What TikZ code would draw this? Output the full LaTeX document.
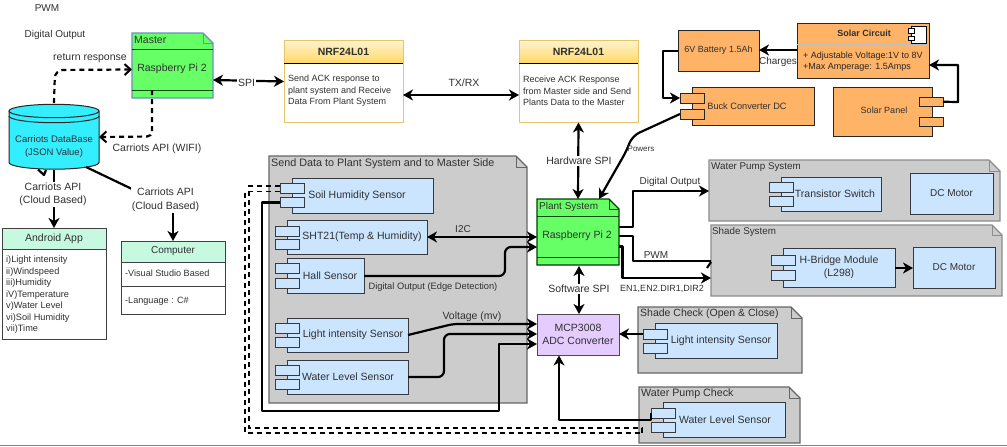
\documentclass[tikz,border=0pt]{standalone}
\usepackage{fontspec}
\setmainfont{Liberation Sans}
\usetikzlibrary{arrows.meta,calc}
\definecolor{txt}{HTML}{303030}
\definecolor{gbox}{HTML}{CCCCCC}
\definecolor{gline}{HTML}{808080}
\definecolor{bluef}{HTML}{CCE5FF}
\definecolor{blued}{HTML}{36393D}
\definecolor{orangef}{HTML}{FFB366}
\definecolor{greenf}{HTML}{66FF66}
\definecolor{greenl}{HTML}{6C8EBF}
\definecolor{cyanf}{HTML}{33EEFF}
\definecolor{purplef}{HTML}{E5CCFF}
\definecolor{mintf}{HTML}{C6F9E0}
\definecolor{yelb}{HTML}{FFD966}
\definecolor{yeld}{HTML}{E6C56A}
\newcommand{\fsa}{\fontsize{10.5}{12.5}\selectfont}
\newcommand{\fsb}{\fontsize{9}{11.5}\selectfont}
\newcommand{\fsc}{\fontsize{10}{12}\selectfont}
\tikzset{
  lbl/.style={font=\fsa,text=txt,inner sep=0pt,align=center},
  lblw/.style={lbl,fill=white,inner sep=1pt},
  shape box/.style={draw,inner sep=0pt,outer sep=0pt,line width=0.9pt,font=\fsc,text=txt,align=center},
  bluebox/.style={shape box,fill=bluef,draw=blued},
  orangebox/.style={shape box,fill=orangef,draw=black!85},
  whitebox/.style={shape box,fill=white,draw=black!75},
  mintbox/.style={shape box,fill=mintf,draw=black!75},
  conn/.style={line width=2.2pt,draw=black,line join=round},
  dash line/.style={line width=2.2pt,draw=black,dash pattern=on 5pt off 4pt},
  tip/.style={-{Stealth[length=10pt,width=11pt,inset=3pt]}},
  bitip/.style={{Stealth[length=10pt,width=11pt,inset=3pt]}-{Stealth[length=10pt,width=11pt,inset=3pt]}},
  barb/.style={-{Straight Barb[length=6pt,width=11pt,line width=2pt]}},
}
% name x1 y1 x2 y2 style text
\newcommand{\rbox}[7]{\node[#6,minimum width={((#4)-(#2))*1pt},minimum height={((#5)-(#3))*1pt}] (#1) at ({((#2)+(#4))/2},{((#3)+(#5))/2}) {#7};}
% name x1 y1 x2 y2 fold fill draw
\newcommand{\fnote}[8]{%
  \path[draw=#8,fill=#7,line width=1.1pt,line join=miter] (#2,#3) -- ({#4-#6},#3) -- (#4,{#3+#6}) -- (#4,#5) -- (#2,#5) -- cycle;
  \path[draw=#8,line width=0.8pt] ({#4-#6},#3) -- ({#4-#6},{#3+#6}) -- (#4,{#3+#6});
  \node[inner sep=0pt,outer sep=0pt,minimum width={(#4-#2)*1pt},minimum height={(#5-#3)*1pt}] (#1) at ({(#2+#4)/2},{(#3+#5)/2}) {};}
% name x1 y1 x2 y2 porta-y portb-y text-cx text
\newcommand{\comp}[9]{%
  \rbox{#1}{#2}{#3}{#4}{#5}{\compstyle}{}
  \rbox{#1-a}{#2-12}{#6}{#2+12}{#6+10}{\compstyle}{}
  \rbox{#1-b}{#2-12}{#7}{#2+12}{#7+10}{\compstyle}{}
  \node[lbl] (#1-t) at (#8,{(#3+#5)/2}) {#9};}
\newcommand{\compstyle}{bluebox}
\begin{document}
\begin{tikzpicture}[x=1pt,y=-1pt]
\useasboundingbox (0,0) rectangle (1007,447);
\coordinate (bl) at (0,445.5);
\coordinate (br) at (1007,445.5);
\draw[gline,line width=1pt] (bl) -- (br);

% free labels
\node[lbl,font=\fsc] (tpwm) at (47,8) {PWM};
\node[lbl,font=\fsc] (tdo) at (55,35) {Digital Output};

% group boxes
\fnote{senddata}{269}{156}{527}{403}{11}{gbox}{black!60}
\node[lbl,anchor=west,font=\fontsize{10.8}{12}\selectfont] (senddata-l) at (271,164) {Send Data to Plant System and to Master Side};
\fnote{wps}{709}{160}{1000}{221}{11}{gbox}{black!45}
\node[lbl,anchor=west,font=\fontsize{9.8}{12}\selectfont] (wps-l) at (711,167) {Water Pump System};
\fnote{shade}{711}{225}{1002}{296}{10}{gbox}{black!45}
\node[lbl,anchor=west,font=\fontsize{9.8}{12}\selectfont] (shade-l) at (712,232) {Shade System};
\fnote{shchk}{638}{307}{802}{373}{11}{gbox}{black!60}
\node[lbl,anchor=west] (shchk-l) at (640,314) {Shade Check (Open \& Close)};
\fnote{wpchk}{639}{387}{800}{443}{11}{gbox}{black!60}
\node[lbl,anchor=west,font=\fontsize{10.7}{12}\selectfont] (wpchk-l) at (641,394) {Water Pump Check};

% Master
\fnote{master}{132}{33}{213}{98}{10}{greenf}{greenl}
\draw[black!70!green,line width=0.9pt] (master.west |- 0,49) -- (master.east |- 0,49);
\draw[black!70!green,line width=0.9pt] (master.west |- 0,90) -- (master.east |- 0,90);
\node[lbl,anchor=west] (master-l) at (134,40) {Master};
\node[lbl] (master-t) at (172,69) {Raspberry Pi 2};

% Plant
\fnote{plant}{537}{199}{619}{265}{10}{greenf}{black!75!green}
\draw[black!70!green,line width=0.9pt] (plant.west |- 0,216) -- (plant.east |- 0,216);
\draw[black!70!green,line width=0.9pt] (plant.west |- 0,257) -- (plant.east |- 0,257);
\node[lbl,anchor=west,font=\fsc] (plant-l) at (539,207) {Plant System};
\node[lbl] (plant-t) at (577,236) {Raspberry Pi 2};

% MCP
\rbox{mcp}{537}{314}{619}{355}{shape box,font=\fsa,fill=purplef,draw=black!70}{MCP3008\\[0.5pt]ADC Converter}

% Database
\draw[black!85,fill=cyanf,line width=1pt] (9,111) arc[start angle=180,end angle=360,x radius=45,y radius=6.7] -- (99,162.5) arc[start angle=0,end angle=180,x radius=45,y radius=6.7] -- cycle;
\draw[black!85,line width=1pt] (9,111) arc[start angle=180,end angle=0,x radius=45,y radius=6.7];
\draw[black!85,line width=1pt] (9,116) arc[start angle=180,end angle=0,x radius=45,y radius=6.7];
\node[inner sep=0pt,outer sep=0pt,minimum width=90pt,minimum height=64pt] (db) at (54,137) {};
\node[lbl,font=\fontsize{9.5}{12}\selectfont] (db-t) at (54,146.5) {Carriots DataBase\\[1pt](JSON Value)};

% NRF boxes
\rbox{nrfa}{284}{40}{403}{122}{shape box,fill=white,draw=yeld}{}
\rbox{nrfa-h}{284}{40}{403}{63}{shape box,font=\fontsize{10.5}{12}\selectfont,top color=white!70!yelb,bottom color=yelb,draw=yeld}{\bfseries NRF24L01}
\draw[black,line width=0.8pt] (nrfa-h.south west) -- (nrfa-h.south east);
\node[lbl,font=\fsb,anchor=west,align=left] (nrfa-t) at (288,91) {Send ACK response to\\plant system and Receive\\Data From Plant System};
\rbox{nrfb}{519}{40}{638}{122}{shape box,fill=white,draw=yeld}{}
\rbox{nrfb-h}{519}{40}{638}{63}{shape box,font=\fontsize{10.5}{12}\selectfont,top color=white!70!yelb,bottom color=yelb,draw=yeld}{\bfseries NRF24L01}
\draw[black,line width=0.8pt] (nrfb-h.south west) -- (nrfb-h.south east);
\node[lbl,font=\fsb,anchor=west,align=left] (nrfb-t) at (523,91) {Receive ACK Response\\from Master side and Send\\Plants Data to the Master};

% Android / Computer
\rbox{android}{2}{228}{106}{339}{whitebox}{}
\rbox{android-h}{2}{228}{106}{249}{mintbox,font=\fsa}{Android App}
\node[anchor=north west,inner sep=0pt,font=\fontsize{9.2}{11.5}\selectfont,text=txt,align=left] (android-t) at (6,256) {i)Light intensity\\ii)Windspeed\\iii)Humidity\\iV)Temperature\\v)Water Level\\vi)Soil Humidity\\vii)Time};
\rbox{computer}{121}{241}{225}{314}{whitebox}{}
\rbox{computer-h}{121}{241}{225}{262}{mintbox}{Computer}
\draw[black!75,line width=0.9pt] (computer.west |- 0,286) -- (computer.east |- 0,286);
\node[lbl,anchor=west,font=\fontsize{9.1}{11.5}\selectfont] (computer-a) at (125,273) {-Visual Studio Based};
\node[lbl,anchor=west,font=\fontsize{9.1}{11.5}\selectfont] (computer-b) at (125,301) {-Language : C\#};

% Blue components
\comp{soil}{292}{178}{433}{213}{183.5}{197.5}{357}{Soil Humidity Sensor}
\comp{sht}{287}{220}{427}{254}{226}{239}{362}{SHT21(Temp \& Humidity)}
\comp{hall}{287}{258}{364}{293}{263.5}{278}{330}{Hall Sensor}
\comp{light}{287}{318}{408}{352}{323}{337}{353}{Light intensity Sensor}
\comp{water}{287}{360}{408}{394}{365}{379}{348}{Water Level Sensor}
\comp{trans}{781}{177}{881}{211}{182}{196}{835}{Transistor Switch}
\rbox{dc1}{910}{173}{993}{214}{bluebox}{DC Motor}
\comp{hb}{783}{248}{895}{287}{255.5}{270.5}{839}{H-Bridge Module\\[0.5pt](L298)}
\rbox{dc2}{913}{247}{995}{288}{bluebox}{DC Motor}
\comp{lchk}{655}{323}{777}{358}{329}{343}{721}{Light intensity Sensor}
\comp{wchk}{663}{402}{785}{437}{408}{422}{725}{Water Level Sensor}

% Orange
\rbox{batt}{678}{30}{759}{71}{orangebox,font=\fsb}{6V Battery 1.5Ah}
\rbox{solar}{797}{23}{929}{78}{orangebox}{}
\draw[white!75!black,line width=1pt] (solar.west |- 0,44) -- (solar.east |- 0,44);
\node[lbl,font=\fontsize{9}{12}\selectfont\bfseries] (solar-h) at (864,33) {Solar Circuit};
\node[lbl,font=\fsb,anchor=west,align=left,text=black!85] (solar-t) at (803,61.5) {+ Adjustable Voltage:1V to 8V\\+Max Amperage: 1.5Amps};
\rbox{icon}{911}{26}{926}{43}{shape box,fill=white,draw=black,line width=0.7pt}{}
\rbox{icona}{908}{28.5}{914}{33}{shape box,fill=white,draw=black,line width=0.7pt}{}
\rbox{iconb}{908}{36}{914}{40.5}{shape box,fill=white,draw=black,line width=0.7pt}{}
\renewcommand{\compstyle}{orangebox}
\comp{buck}{692}{87}{814}{125}{93}{109}{747}{{\fontsize{9.2}{11}\selectfont Buck Converter DC}}
\rbox{panel}{833}{87}{932}{136}{orangebox}{}
\node[lbl,font=\fsb] (panel-t) at (884,110) {Solar Panel};
\rbox{panel-a}{919}{97}{943}{106.5}{orangebox}{}
\rbox{panel-b}{919}{117}{943}{126.5}{orangebox}{}

% Connectors
\draw[dash line,rounded corners=8pt,barb] (db.north |- 0,103) -- (55,70) -- (master.west |- 0,69.5);
\draw[dash line,rounded corners=5pt,barb] (152,90) -- (152,136.5) -- (db.east |- 0,137);
\draw[conn,bitip] (master.east |- 0,80) -- (nrfa.west |- 0,81.5);
\node[lblw] (spi) at (246.5,83) {SPI};
\draw[conn,bitip] (nrfa.east |- 0,95) -- (nrfb.west |- 0,95);
\node[lbl] (txrx) at (464,83) {TX/RX};
\draw[conn,bitip] (nrfb.south |- 0,122.5) -- (plant.north |- 0,199);
\node[lblw] (hwspi) at (579,161) {Hardware SPI};
\draw[conn,bitip] (579,266) -- (579,314);
\node[lblw] (swspi) at (579,289) {Software SPI};
\draw[conn,tip] (db.south |- 0,170) -- (android-h.north);
\node[lblw] (capi1) at (53,194.5) {Carriots API\\[1pt](Cloud Based)};
\draw[conn] (38,169.5) -- (44,175) -- (46,170);
\draw[conn] (86,167) -- (132,189);
\draw[conn,tip] (computer-h.north |- 0,212) -- (computer-h.north);
\node[lblw] (capi2) at (165.5,200) {Carriots API\\[1pt](Cloud Based)};
\node[lbl] (retr) at (90,58) {return response};
\node[lbl] (capiw) at (157,149) {Carriots API (WIFI)};

\draw[conn,tip] (plant.east |- 0,227) -- (633,227) -- (633,191) -- (wps.west |- 0,191);
\node[lbl,font=\fsc] (l-do) at (670,182) {Digital Output};
\draw[conn] (plant.east |- 0,236) -- (633,236) -- (633,261) -- (shade.west |- 0,261);
\draw[conn] (707,268) -- (711,262);
\node[lblw,inner sep=0.5pt,font=\fsc] (l-pwm) at (656,255) {PWM};
\draw[conn,tip] (plant.east |- 0,246.5) -- (622.5,246.5) -- (622.5,278) -- (shade.west |- 0,278);
\node[lbl,font=\fontsize{9}{11}\selectfont] (l-en) at (662,289) {EN1,EN2.DIR1,DIR2};
\draw[conn,tip] (hb.east |- 0,268) -- (dc2.west |- 0,268);

\draw[conn,bitip] (sht.east |- 0,237) -- (plant.west |- 0,237);
\node[lbl,font=\fsc] (l-i2c) at (463,229) {I2C};
\draw[conn,tip,rounded corners=6pt] (hall.east |- 0,276) -- (505,276) -- (505,247) -- (plant.west |- 0,247);
\node[lbl,font=\fontsize{9.3}{11}\selectfont] (l-edge) at (433,287) {Digital Output (Edge Detection)};
\draw[conn,tip,rounded corners=5pt] (light.east |- 0,335) -- (453,324) -- (mcp.west |- 0,324);
\node[lbl] (l-volt) at (472,317) {Voltage (mv)};
\draw[conn,tip,rounded corners=6pt] (water.east |- 0,377) -- (444,377) -- (444,334) -- (mcp.west |- 0,334);
\draw[conn,tip] (soil-b.west) -- (262,202.5) -- (262,411) -- (499,411) -- (499,344) -- (mcp.west |- 0,344);
\draw[conn,tip] (lchk-a.west) -- (mcp.east |- 0,334);
\draw[conn,tip] (wchk-a.west |- 0,413) -- (wchk-a.west |- 0,420) -- (559,420) -- (559,355.5);
\draw[dash line,line width=1.8pt] (soil-a.west |- 0,186) -- (249,186) -- (249,428) -- (642,428) -- (642,433);
\draw[dash line,line width=1.8pt] (soil-a.west |- 0,191.5) -- (245,191.5) -- (245,433) -- (642,433);

\draw[conn,tip] (solar.west |- 0,50) -- (batt.east |- 0,50);
\node[lbl,font=\fsc] (l-ch) at (778,62) {Charges};
\draw[conn,tip] (batt.west |- 0,51) -- (663,51) -- (663,98) -- (buck-a.west);
\draw[conn,tip,rounded corners=8pt] (buck-b.west) -- (632,136) -- (627,150) -- (599,199);
\node[lbl,font=\fontsize{8}{10}\selectfont] (l-pow) at (641,149) {Powers};
\draw[conn,tip] (panel-a.east) -- (958,102) -- (958,65) -- (solar.east |- 0,65);
\end{tikzpicture}
\end{document}
